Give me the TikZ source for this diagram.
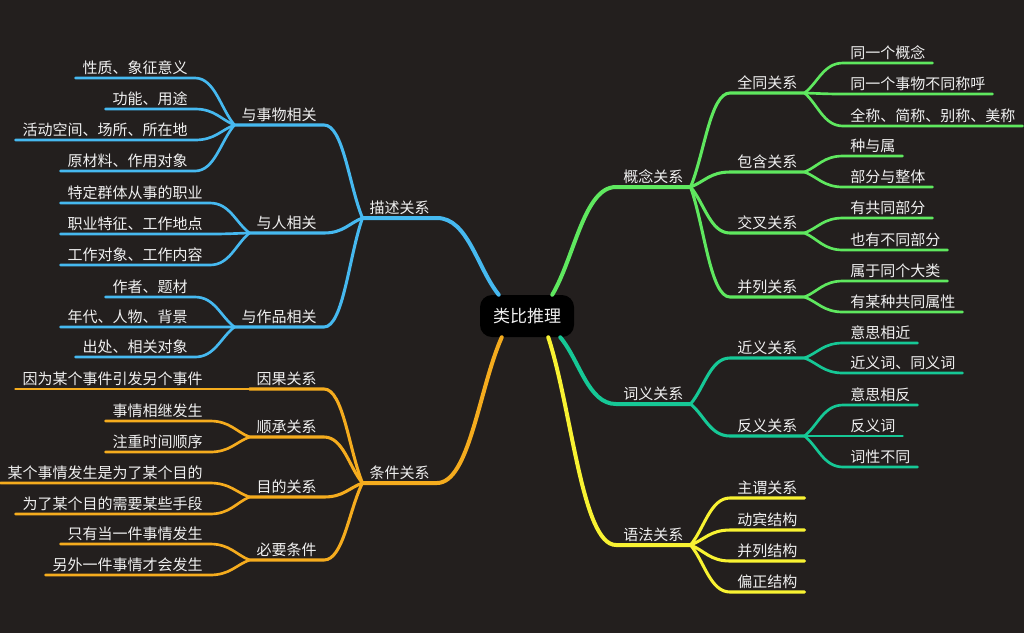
\documentclass[tikz,border=0pt]{standalone}
\usepackage{fontspec}
\newfontfamily\cjk{Noto Sans CJK SC}
\usetikzlibrary{calc}

\definecolor{bgc}{RGB}{35,31,30}
\definecolor{txtc}{RGB}{240,240,240}
\definecolor{msc}{RGB}{70,185,240}
\definecolor{tjc}{RGB}{245,172,30}
\definecolor{gnc}{RGB}{95,232,95}
\definecolor{cyc}{RGB}{22,200,150}
\definecolor{yfc}{RGB}{248,242,50}

\tikzset{
  txt/.style={text=txtc, font=\cjk\fontsize{11.25}{13}\selectfont,
    inner xsep=5.25pt, inner ysep=2pt, text height=9.5pt, text depth=1.5pt},
  lft/.style={txt, anchor=south east},
  rgt/.style={txt, anchor=south west},
  root/.style={fill=black, rounded corners=9pt, text=txtc,
    font=\cjk\fontsize{12.75}{15}\selectfont,
    minimum width=70.5pt, minimum height=31.5pt},
  branch/.style={to path={let \p1=(\tikztostart), \p2=(\tikztotarget) in
    .. controls ($(\p1)!0.35!(\p2)$) and ({0.5*\x1+0.5*\x2},\y2) .. (\p2)}},
  lv1/.style={line width=3pt, line cap=round},
  lv2/.style={line width=2.3pt, line cap=round},
  lv3/.style={line width=2pt, line cap=round},
}

\begin{document}
\begin{tikzpicture}[x=0.75pt, y=-0.75pt]
    \fill[bgc] (0,0) rectangle (1024,633);
    \useasboundingbox (0,0) rectangle (1024,633);

    % ---- Centro ----
    \node[root] (root) at (527,316) {类比推理};
    \coordinate (r-ms) at ($(root.north west)+(19,0)$);
    \coordinate (r-gn) at ($(root.north east)+(-22,0)$);
    \coordinate (r-tj) at ($(root.south west)+(22,0)$);
    \coordinate (r-yf) at ($(root.south east)+(-26,0)$);
    \coordinate (r-cy) at ($(root.south east)+(-14,0)$);

    % ---- Lado izquierdo: descripcion ----
    \node[lft] (ms) at (437,218) {描述关系};
    \node[lft] (sw) at (324,125) {与事物相关};
    \node[lft] (rw) at (324,233) {与人相关};
    \node[lft] (zp) at (324,327) {与作品相关};
    \node[lft] (sw1) at (195,78) {性质、象征意义};
    \node[lft] (sw2) at (195,109) {功能、用途};
    \node[lft] (sw3) at (195,140) {活动空间、场所、所在地};
    \node[lft] (sw4) at (195,171) {原材料、作用对象};
    \node[lft] (rw1) at (210,203) {特定群体从事的职业};
    \node[lft] (rw2) at (210,234) {职业特征、工作地点};
    \node[lft] (rw3) at (210,265) {工作对象、工作内容};
    \node[lft] (zp1) at (195,297) {作者、题材};
    \node[lft] (zp2) at (195,327) {年代、人物、背景};
    \node[lft] (zp3) at (195,357) {出处、相关对象};

    \draw[msc, lv1] (r-ms) to[branch] (ms.south east) -- (ms.south west);
    \draw[msc, lv2] (ms.south west) to[branch] (sw.south east) -- (sw.south west);
    \draw[msc, lv2] (ms.south west) to[branch] (rw.south east) -- (rw.south west);
    \draw[msc, lv2] (ms.south west) to[branch] (zp.south east) -- (zp.south west);
    \draw[msc, lv3] (sw.south west) to[branch] (sw1.south east) -- (sw1.south west);
    \draw[msc, lv3] (sw.south west) to[branch] (sw2.south east) -- (sw2.south west);
    \draw[msc, lv3] (sw.south west) to[branch] (sw3.south east) -- (sw3.south west);
    \draw[msc, lv3] (sw.south west) to[branch] (sw4.south east) -- (sw4.south west);
    \draw[msc, lv3] (rw.south west) to[branch] (rw1.south east) -- (rw1.south west);
    \draw[msc, lv3] (rw.south west) to[branch] (rw2.south east) -- (rw2.south west);
    \draw[msc, lv3] (rw.south west) to[branch] (rw3.south east) -- (rw3.south west);
    \draw[msc, lv3] (zp.south west) to[branch] (zp1.south east) -- (zp1.south west);
    \draw[msc, lv3] (zp.south west) to[branch] (zp2.south east) -- (zp2.south west);
    \draw[msc, lv3] (zp.south west) to[branch] (zp3.south east) -- (zp3.south west);

    % ---- Lado izquierdo: condiciones ----
    \node[lft] (tj) at (437,483) {条件关系};
    \node[lft] (yg) at (324,389) {因果关系};
    \node[lft] (sc) at (324,437) {顺承关系};
    \node[lft] (md) at (324,497) {目的关系};
    \node[lft] (by) at (324,560) {必要条件};
    \node[lft] (yg1) at (210,389) {因为某个事件引发另个事件};
    \node[lft] (sc1) at (210,421) {事情相继发生};
    \node[lft] (sc2) at (210,452) {注重时间顺序};
    \node[lft] (md1) at (210,483) {某个事情发生是为了某个目的};
    \node[lft] (md2) at (210,514) {为了某个目的需要某些手段};
    \node[lft] (by1) at (210,544) {只有当一件事情发生};
    \node[lft] (by2) at (210,575) {另外一件事情才会发生};

    \draw[tjc, lv1] (r-tj) to[branch] (tj.south east) -- (tj.south west);
    \draw[tjc, lv2] (tj.south west) to[branch] (yg.south east) -- (yg.south west);
    \draw[tjc, lv2] (tj.south west) to[branch] (sc.south east) -- (sc.south west);
    \draw[tjc, lv2] (tj.south west) to[branch] (md.south east) -- (md.south west);
    \draw[tjc, lv2] (tj.south west) to[branch] (by.south east) -- (by.south west);
    \draw[tjc, lv3] (yg.south west) -- (yg1.south east) -- (yg1.south west);
    \draw[tjc, lv3] (sc.south west) to[branch] (sc1.south east) -- (sc1.south west);
    \draw[tjc, lv3] (sc.south west) to[branch] (sc2.south east) -- (sc2.south west);
    \draw[tjc, lv3] (md.south west) to[branch] (md1.south east) -- (md1.south west);
    \draw[tjc, lv3] (md.south west) to[branch] (md2.south east) -- (md2.south west);
    \draw[tjc, lv3] (by.south west) to[branch] (by1.south east) -- (by1.south west);
    \draw[tjc, lv3] (by.south west) to[branch] (by2.south east) -- (by2.south west);

    % ---- Lado derecho: conceptos ----
    \node[rgt] (gn) at (616,187) {概念关系};
    \node[rgt] (qt) at (730,93) {全同关系};
    \node[rgt] (bh) at (730,172) {包含关系};
    \node[rgt] (jc) at (730,233) {交叉关系};
    \node[rgt] (bl) at (730,297) {并列关系};
    \node[rgt] (qt1) at (843,63) {同一个概念};
    \node[rgt] (qt2) at (843,94) {同一个事物不同称呼};
    \node[rgt] (qt3) at (843,126) {全称、简称、别称、美称};
    \node[rgt] (bh1) at (843,156) {种与属};
    \node[rgt] (bh2) at (843,187) {部分与整体};
    \node[rgt] (jc1) at (843,218) {有共同部分};
    \node[rgt] (jc2) at (843,250) {也有不同部分};
    \node[rgt] (bl1) at (843,281) {属于同个大类};
    \node[rgt] (bl2) at (843,312) {有某种共同属性};

    \draw[gnc, lv1] (r-gn) to[branch] (gn.south west) -- (gn.south east);
    \draw[gnc, lv2] (gn.south east) to[branch] (qt.south west) -- (qt.south east);
    \draw[gnc, lv2] (gn.south east) to[branch] (bh.south west) -- (bh.south east);
    \draw[gnc, lv2] (gn.south east) to[branch] (jc.south west) -- (jc.south east);
    \draw[gnc, lv2] (gn.south east) to[branch] (bl.south west) -- (bl.south east);
    \draw[gnc, lv3] (qt.south east) to[branch] (qt1.south west) -- (qt1.south east);
    \draw[gnc, lv3] (qt.south east) to[branch] (qt2.south west) -- (qt2.south east);
    \draw[gnc, lv3] (qt.south east) to[branch] (qt3.south west) -- (qt3.south east);
    \draw[gnc, lv3] (bh.south east) to[branch] (bh1.south west) -- (bh1.south east);
    \draw[gnc, lv3] (bh.south east) to[branch] (bh2.south west) -- (bh2.south east);
    \draw[gnc, lv3] (jc.south east) to[branch] (jc1.south west) -- (jc1.south east);
    \draw[gnc, lv3] (jc.south east) to[branch] (jc2.south west) -- (jc2.south east);
    \draw[gnc, lv3] (bl.south east) to[branch] (bl1.south west) -- (bl1.south east);
    \draw[gnc, lv3] (bl.south east) to[branch] (bl2.south west) -- (bl2.south east);

    % ---- Lado derecho: significado ----
    \node[rgt] (cy) at (616,404) {词义关系};
    \node[rgt] (jy) at (730,358) {近义关系};
    \node[rgt] (fy) at (730,436) {反义关系};
    \node[rgt] (jy1) at (843,343) {意思相近};
    \node[rgt] (jy2) at (843,373) {近义词、同义词};
    \node[rgt] (fy1) at (843,405) {意思相反};
    \node[rgt] (fy2) at (843,436) {反义词};
    \node[rgt] (fy3) at (843,467) {词性不同};

    \draw[cyc, lv1] (r-cy) to[branch] (cy.south west) -- (cy.south east);
    \draw[cyc, lv2] (cy.south east) to[branch] (jy.south west) -- (jy.south east);
    \draw[cyc, lv2] (cy.south east) to[branch] (fy.south west) -- (fy.south east);
    \draw[cyc, lv3] (jy.south east) to[branch] (jy1.south west) -- (jy1.south east);
    \draw[cyc, lv3] (jy.south east) to[branch] (jy2.south west) -- (jy2.south east);
    \draw[cyc, lv3] (fy.south east) to[branch] (fy1.south west) -- (fy1.south east);
    \draw[cyc, lv3] (fy.south east) -- (fy2.south west) -- (fy2.south east);
    \draw[cyc, lv3] (fy.south east) to[branch] (fy3.south west) -- (fy3.south east);

    % ---- Lado derecho: gramatica ----
    \node[rgt] (yf) at (616,545) {语法关系};
    \node[rgt] (yf1) at (730,498) {主谓关系};
    \node[rgt] (yf2) at (730,530) {动宾结构};
    \node[rgt] (yf3) at (730,561) {并列结构};
    \node[rgt] (yf4) at (730,592) {偏正结构};

    \draw[yfc, lv1] (r-yf) to[branch] (yf.south west) -- (yf.south east);
    \draw[yfc, lv2] (yf.south east) to[branch] (yf1.south west) -- (yf1.south east);
    \draw[yfc, lv2] (yf.south east) to[branch] (yf2.south west) -- (yf2.south east);
    \draw[yfc, lv2] (yf.south east) to[branch] (yf3.south west) -- (yf3.south east);
    \draw[yfc, lv2] (yf.south east) to[branch] (yf4.south west) -- (yf4.south east);
\end{tikzpicture}
\end{document}
